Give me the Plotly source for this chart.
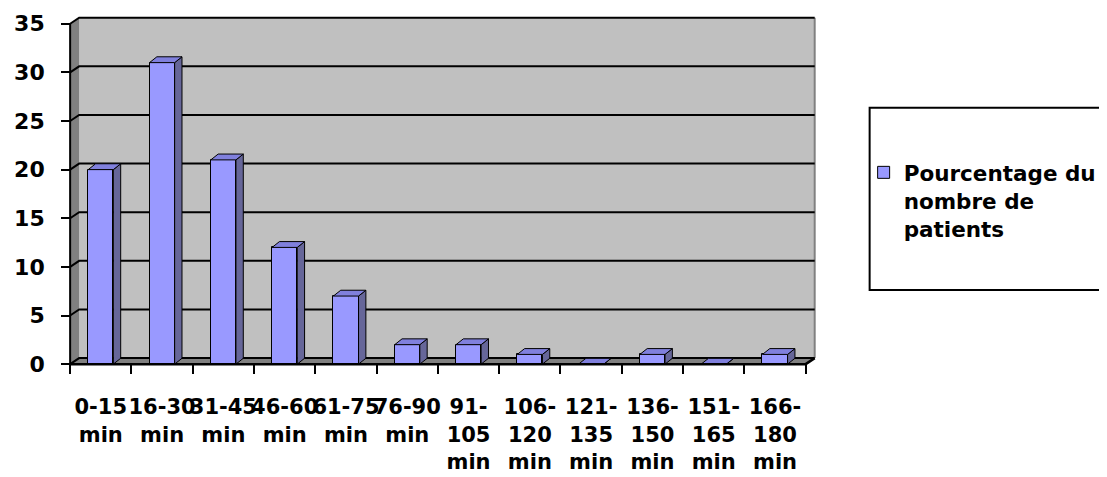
import plotly.graph_objects as go

# ---- data ----
categories = ["0-15 min", "16-30 min", "31-45 min", "46-60 min", "61-75 min", "76-90 min",
              "91-105 min", "106-120 min", "121-135 min", "136-150 min", "151-165 min", "166-180 min"]
tick_labels = ["0-15<br>min", "16-30<br>min", "31-45<br>min", "46-60<br>min", "61-75<br>min",
               "76-90<br>min", "91-<br>105<br>min", "106-<br>120<br>min", "121-<br>135<br>min",
               "136-<br>150<br>min", "151-<br>165<br>min", "166-<br>180<br>min"]
values = [20, 31, 21, 12, 7, 2, 2, 1, 0, 1, 0, 1]
series_name = "Pourcentage du<br>nombre de<br>patients"
y_ticks = [0, 5, 10, 15, 20, 25, 30, 35]

# ---- style / geometry ----
FONT = "DejaVu Sans, Verdana, sans-serif"
FRONT, SIDE, TOP = "#9999FF", "#666699", "#8080DD"
WALL, DARK = "#C0C0C0", "#808080"
N = len(values)
YMAX = 35
DX, DY = 0.147, 0.62      # wall depth offset (axis units)
BX, BY = 0.12, 0.6        # bar depth offset
BW = 0.41                 # bar front width
XMIN, XMAX = -0.1, 12.25
YMIN, YTOP = -0.5, 36.0

OFF = 8                   # page body margin
W, H = 1107 - OFF, 477 - OFF
px_x = 736 / 12
px_y = 340 / 35
l = (70 - OFF) - (0 - XMIN) * px_x
pw = (XMAX - XMIN) * px_x
r = W - l - pw
bottom_px = (364 - OFF) + (0 - YMIN) * px_y
b = H - bottom_px
ph = (YTOP - YMIN) * px_y
t = H - b - ph

centers = [i + 0.5 for i in range(N)]

fig = go.Figure()

# front faces
fig.add_trace(go.Bar(
    x=centers, y=values, width=BW, name=series_name,
    marker=dict(color=FRONT, line=dict(color="black", width=1)),
    hoverinfo="skip", showlegend=True))

# side & top faces derived from data
sx, sy, tx, ty = [], [], [], []
for c, v in zip(centers, values):
    x0, x1 = c - BW / 2, c + BW / 2
    sx += [x1, x1 + BX, x1 + BX, x1, x1, None]
    sy += [0, BY, v + BY, v, 0, None]
    tx += [x0, x1, x1 + BX, x0 + BX, x0, None]
    ty += [v, v, v + BY, v + BY, v, None]
fig.add_trace(go.Scatter(x=sx, y=sy, mode="lines", fill="toself", fillcolor=SIDE,
                         line=dict(color="black", width=1), hoverinfo="skip", showlegend=False))
fig.add_trace(go.Scatter(x=tx, y=ty, mode="lines", fill="toself", fillcolor=TOP,
                         line=dict(color="black", width=1), hoverinfo="skip", showlegend=False))

shapes = []
# back wall
shapes.append(dict(type="rect", xref="x", yref="y", x0=DX, x1=N + DX, y0=DY, y1=YMAX + DY,
                   fillcolor=WALL, line=dict(width=0), layer="below"))
# side wall
shapes.append(dict(type="path", xref="x", yref="y",
                   path=f"M0,0 L{DX},{DY} L{DX},{YMAX + DY} L0,{YMAX} Z",
                   fillcolor=DARK, line=dict(width=0), layer="below"))
# floor
shapes.append(dict(type="path", xref="x", yref="y",
                   path=f"M0,0 L{N},0 L{N + DX},{DY} L{DX},{DY} Z",
                   fillcolor=DARK, line=dict(width=0), layer="below"))
# right wall edge
shapes.append(dict(type="line", xref="x", yref="y", x0=N + DX, x1=N + DX, y0=DY, y1=YMAX + DY,
                   line=dict(color=DARK, width=2), layer="below"))
# gridlines on walls
for v in y_ticks:
    shapes.append(dict(type="path", xref="x", yref="y",
                       path=f"M0,{v} L{DX},{v + DY} L{N + DX},{v + DY}",
                       line=dict(color="black", width=2), layer="below"))
# front axis lines
shapes.append(dict(type="line", xref="x", yref="y", x0=0, x1=0, y0=0, y1=YMAX,
                   line=dict(color="black", width=2), layer="above"))
shapes.append(dict(type="path", xref="x", yref="y",
                   path=f"M0,0 L{N},0 L{N + DX},{DY}",
                   line=dict(color="black", width=2.5), layer="above"))
# legend box
shapes.append(dict(type="rect", xref="paper", yref="paper",
                   x0=(870 - OFF - l) / pw, x1=(1105 - OFF - l) / pw,
                   y0=(bottom_px - (290 - OFF)) / ph, y1=(bottom_px - (108 - OFF)) / ph,
                   line=dict(color="black", width=2), fillcolor="rgba(0,0,0,0)", layer="above"))

fig.update_layout(
    width=W, height=H,
    margin=dict(l=l, r=r, t=t, b=b, pad=0, autoexpand=False),
    paper_bgcolor="white", plot_bgcolor="white",
    bargap=0,
    shapes=shapes,
    showlegend=True,
    legend=dict(x=(864 - OFF - l) / pw, xanchor="left", y=(bottom_px - (152 - OFF)) / ph, yanchor="top",
                valign="top", bgcolor="rgba(0,0,0,0)", borderwidth=0,
                font=dict(family=FONT, size=21.5, color="black", weight="bold")),
    xaxis=dict(range=[XMIN, XMAX], anchor="free", position=(0 - YMIN) / (YTOP - YMIN),
               tickmode="array", tickvals=centers, ticktext=tick_labels, tickangle=0,
               ticks="outside", ticklen=24, tickcolor="rgba(0,0,0,0)",
               showgrid=False, zeroline=False, showline=False,
               tickfont=dict(family=FONT, size=21, color="black", weight="bold"),
               minor=dict(tickmode="linear", tick0=0, dtick=1, ticks="outside", ticklen=9,
                          tickwidth=2, tickcolor="black", showgrid=False)),
    yaxis=dict(range=[YMIN, YTOP], anchor="free", position=(0 - XMIN) / (XMAX - XMIN),
               tickmode="array", tickvals=y_ticks,
               ticks="outside", ticklen=9, tickwidth=2, tickcolor="black",
               ticklabelstandoff=12,
               showgrid=False, zeroline=False, showline=False,
               tickfont=dict(family=FONT, size=22, color="black", weight="bold")),
)

fig.write_html("out.html")
